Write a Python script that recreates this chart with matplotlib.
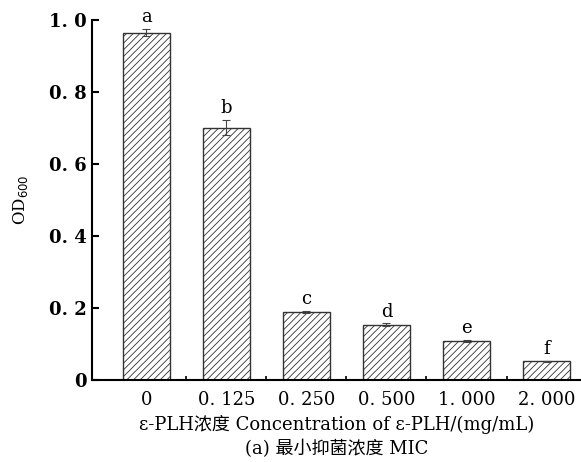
import matplotlib.pyplot as plt
import numpy as np

plt.rcParams['font.family'] = ['DejaVu Serif', 'Noto Sans CJK SC']
plt.rcParams['hatch.linewidth'] = 0.6
plt.rcParams['hatch.color'] = '#909090'

concentrations = ["0", "0. 125", "0. 250", "0. 500", "1. 000", "2. 000"]
od600 = [0.964, 0.700, 0.189, 0.153, 0.108, 0.052]
errors = [0.010, 0.021, 0.003, 0.004, 0.002, 0.002]
letters = ["a", "b", "c", "d", "e", "f"]
yticks = [0, 0.2, 0.4, 0.6, 0.8, 1.0]
ytick_labels = ["0", "0. 2", "0. 4", "0. 6", "0. 8", "1. 0"]

fig = plt.figure(figsize=(5.81, 4.62), dpi=100)
ax = fig.add_axes([0.158, 0.1775, 0.842, 0.7795])

x = np.arange(len(concentrations))
ax.bar(x, od600, width=0.59, color='white', edgecolor='#333333',
       linewidth=1.0, hatch='/////')
ax.errorbar(x, od600, yerr=errors, fmt='none', ecolor='#444444',
            elinewidth=0.8, capsize=3, capthick=0.8)
for xi, v, e, lab in zip(x, od600, errors, letters):
    ax.text(xi, v + e + 0.008, lab, ha='center', va='bottom', fontsize=13)

ax.set_xlim(-0.68, 5.43)
ax.set_ylim(0, 1.0)
ax.set_yticks(yticks)
ax.set_yticklabels(ytick_labels, fontsize=13, fontweight='bold')
ax.set_xticks(x)
ax.set_xticklabels(concentrations, fontsize=13)
ax.set_xticks(x[:-1] + 0.5, minor=True)
ax.tick_params(axis='x', which='major', length=0, pad=8)
ax.tick_params(axis='x', which='minor', direction='in', length=3, width=1.2)
ax.tick_params(axis='y', direction='in', length=5, width=1.5)

for s in ['top', 'right']:
    ax.spines[s].set_visible(False)
for s in ['left', 'bottom']:
    ax.spines[s].set_linewidth(1.5)

ax.set_ylabel("OD$_{600}$", fontsize=12, labelpad=14)
ax.set_xlabel("ε-PLH浓度 Concentration of ε-PLH/(mg/mL)\n"
              "(a) 最小抑菌浓度 MIC", fontsize=13, labelpad=4, linespacing=1.45)

fig.savefig("out.png", dpi=100)
